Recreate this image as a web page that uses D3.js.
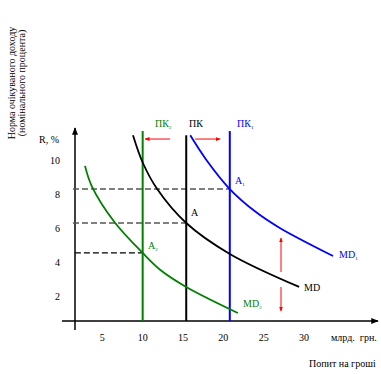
<!DOCTYPE html>
<html>
<head>
<meta charset="utf-8">
<script src="https://cdn.jsdelivr.net/npm/d3@7"></script>
<style>
  body { margin: 0; background: #fff; }
  text { font-family: "Liberation Serif", "DejaVu Serif", serif; font-size: 10px; }
</style>
</head>
<body>
<div id="canvas"></div>
<script>
"use strict"
let svgWidth = 381;
let svgHeight = 374;

// tick labels
let xTicks = [5, 10, 15, 20, 25, 30];
let yTicks = [2, 4, 6, 8, 10];

// money demand curves [quantity, rate]
let md = [[8.8, 11.1], [10.0, 9.5], [11.8, 7.94], [15.4, 5.94], [20.8, 4.12], [29.4, 2.18]];
let md1 = [[15.9, 11.1], [17.9, 9.65], [20.8, 7.94], [24.0, 6.6], [27.0, 5.65], [33.6, 4.0]];
let md2 = [[2.85, 9.3], [3.7, 8.1], [6.5, 6.0], [10.0, 4.18], [12.2, 3.18], [15.4, 2.18], [21.8, 0.65]];

// money supply (vertical lines): quantity, top rate
let supply = [
    { name: "ПК2", q: 10.0, top: 11.35, color: "#008000" },
    { name: "ПК", q: 15.4, top: 11.1, color: "#000" },
    { name: "ПК1", q: 20.8, top: 11.35, color: "#0000ff" }
];

// equilibrium rates (dashed lines)
let levels = [
    { r: 7.94, from: 1.36, to: 20.8, color: "#555" },
    { r: 5.94, from: 1.36, to: 15.4, color: "#555" },
    { r: 4.18, from: 1.6, to: 10.0, color: "#000" }
];

// red shift arrows [x1, y1, x2, y2] in data units
let arrows = [
    [13.4, 10.88, 10.3, 10.88],
    [16.5, 10.88, 19.6, 10.88],
    [27.15, 3.06, 27.15, 5.06],
    [27.15, 2.18, 27.15, 0.76]
];

let svg = d3.select("#canvas")
    .append("svg")
    .attr("width", svgWidth)
    .attr("height", svgHeight);

svg.append("rect")
    .attr("width", svgWidth)
    .attr("height", svgHeight)
    .attr("fill", "#fff");

let x = d3.scaleLinear().domain([0, 30]).range([62, 304]);
let y = d3.scaleLinear().domain([0, 10]).range([324, 154]);

let defs = svg.append("defs");
defs.append("marker")
    .attr("id", "axisHead")
    .attr("viewBox", "0 0 10 10")
    .attr("refX", 9).attr("refY", 5)
    .attr("markerWidth", 5).attr("markerHeight", 5)
    .attr("orient", "auto")
    .append("path").attr("d", "M0,1L10,5L0,9Z").attr("fill", "#000");
defs.append("marker")
    .attr("id", "redHead")
    .attr("viewBox", "0 0 10 10")
    .attr("refX", 9).attr("refY", 5)
    .attr("markerWidth", 5).attr("markerHeight", 5)
    .attr("orient", "auto")
    .append("path").attr("d", "M0,1L10,5L0,9Z").attr("fill", "#ff0000");

// axes
svg.append("line")
    .attr("x1", 75).attr("y1", 330).attr("x2", 75).attr("y2", 128)
    .attr("stroke", "#000").attr("stroke-width", 1.5)
    .attr("marker-end", "url(#axisHead)");
svg.append("line")
    .attr("x1", 62).attr("y1", 321).attr("x2", 378).attr("y2", 321)
    .attr("stroke", "#000").attr("stroke-width", 1.5)
    .attr("marker-end", "url(#axisHead)");

// tick labels
svg.selectAll(".ytick").data(yTicks).enter().append("text")
    .attr("x", 60).attr("y", d => y(d) + 10)
    .attr("text-anchor", "end")
    .text(d => d);
svg.selectAll(".xtick").data(xTicks).enter().append("text")
    .attr("x", d => x(d)).attr("y", 341)
    .attr("text-anchor", "middle")
    .text(d => d);

svg.append("text").attr("x", 39).attr("y", 143).text("R, %");
svg.append("text").attr("x", 331).attr("y", 341).attr("font-size", "9px")
    .attr("xml:space", "preserve").text("млрд.  грн.");
svg.append("text").attr("x", 309).attr("y", 367).attr("font-size", "9px").text("Попит на гроші");

let ytitle = svg.append("text")
    .attr("transform", "translate(15,83) rotate(-90)")
    .attr("text-anchor", "middle")
    .attr("font-size", "9.5px");
ytitle.append("tspan").attr("x", 0).attr("y", 0).text("Норма очікуваного доходу");
ytitle.append("tspan").attr("x", 0).attr("y", 10).text("(номінального процента)");

// dashed levels
svg.selectAll(".level").data(levels).enter().append("line")
    .attr("x1", d => x(d.from)).attr("x2", d => x(d.to))
    .attr("y1", d => y(d.r)).attr("y2", d => y(d.r))
    .attr("stroke", d => d.color).attr("stroke-width", 1.3)
    .attr("stroke-dasharray", "6,3");

// supply lines
svg.selectAll(".supply").data(supply).enter().append("line")
    .attr("x1", d => x(d.q)).attr("x2", d => x(d.q))
    .attr("y1", d => y(d.top)).attr("y2", 321)
    .attr("stroke", d => d.color).attr("stroke-width", 2);

// demand curves
let line = d3.line()
    .x(d => x(d[0]))
    .y(d => y(d[1]))
    .curve(d3.curveCatmullRom);

let curves = [
    { data: md, color: "#000" },
    { data: md1, color: "#0000ff" },
    { data: md2, color: "#008000" }
];
svg.selectAll(".curve").data(curves).enter().append("path")
    .attr("d", d => line(d.data))
    .attr("fill", "none")
    .attr("stroke", d => d.color)
    .attr("stroke-width", 1.8);

// red arrows
svg.selectAll(".arrow").data(arrows).enter().append("line")
    .attr("x1", d => x(d[0])).attr("y1", d => y(d[1]))
    .attr("x2", d => x(d[2])).attr("y2", d => y(d[3]))
    .attr("stroke", "#ff0000").attr("stroke-width", 1)
    .attr("marker-end", "url(#redHead)");

// labels with subscripts
function label(px, py, main, sub, color) {
    let t = svg.append("text").attr("x", px).attr("y", py).attr("fill", color).text(main);
    if (sub) {
        t.append("tspan").attr("dy", 2).attr("font-size", "5px").text(sub);
    }
}
label(155, 127, "ПК", "2", "#008000");
label(189, 127, "ПК", "", "#000");
label(237, 127, "ПК", "1", "#0000ff");
label(191, 216, "A", "", "#000");
label(235, 184, "A", "1", "#0000ff");
label(148, 249, "A", "2", "#008000");
label(339, 258, "MD", "1", "#0000ff");
label(304, 291, "MD", "", "#000");
label(243, 307, "MD", "2", "#008000");
</script>
</body>
</html>
